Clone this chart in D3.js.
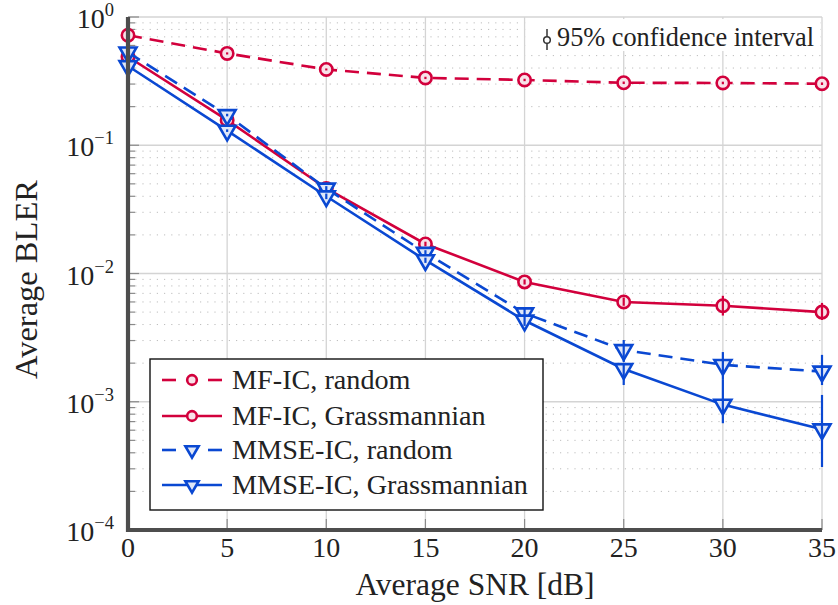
<!DOCTYPE html>
<html>
<head>
<meta charset="utf-8">
<script src="https://cdn.jsdelivr.net/npm/d3@7"></script>
<style>
  html, body { margin: 0; padding: 0; background: #fff; }
  svg { display: block; }
  text { font-family: "Liberation Serif", "DejaVu Serif", serif; fill: #222; }
</style>
</head>
<body>
<svg id="chart" width="838" height="605"></svg>
<script>
// ---- data ----
const snr = [0, 5, 10, 15, 20, 25, 30, 35];
const xTicks = [0, 5, 10, 15, 20, 25, 30, 35];
const yTickExps = [0, -1, -2, -3, -4];

const mfRandom     = [0.72, 0.52, 0.39, 0.335, 0.323, 0.307, 0.306, 0.302];
const mfRandomLo   = [0.71, 0.51, 0.383, 0.328, 0.316, 0.300, 0.299, 0.295];
const mfRandomHi   = [0.73, 0.53, 0.397, 0.342, 0.330, 0.314, 0.313, 0.309];

const mfGrass      = [0.49, 0.157, 0.046, 0.017, 0.0086, 0.0060, 0.0056, 0.0050];
const mfGrassLo    = [0.48, 0.153, 0.0445, 0.0163, 0.0082, 0.0056, 0.0047, 0.00434];
const mfGrassHi    = [0.50, 0.161, 0.0475, 0.0177, 0.0090, 0.0065, 0.0067, 0.0059];

const mmseRandom   = [0.53, 0.172, 0.046, 0.0145, 0.0049, 0.00253, 0.00194, 0.00172];
const mmseRandomLo = [0.52, 0.168, 0.044, 0.0138, 0.0045, 0.00204, 0.00148, 0.00135];
const mmseRandomHi = [0.54, 0.176, 0.048, 0.0152, 0.0053, 0.00303, 0.00244, 0.00232];

const mmseGrass    = [0.415, 0.130, 0.040, 0.0127, 0.0043, 0.0018, 0.00095, 0.00061];
const mmseGrassLo  = [0.405, 0.127, 0.038, 0.0121, 0.0039, 0.00135, 0.00068, 0.00031];
const mmseGrassHi  = [0.425, 0.133, 0.042, 0.0133, 0.0047, 0.00194, 0.00148, 0.00113];

const seriesNames = ["MF-IC, random", "MF-IC, Grassmannian", "MMSE-IC, random", "MMSE-IC, Grassmannian"];
const xLabel = "Average SNR [dB]";
const yLabel = "Average BLER";
const noteText = "95% confidence interval";

// ---- layout ----
const RED = "#d2003c", BLUE = "#0a48d2";
const RED_FILL = "#f8e2e9", BLUE_FILL = "#dfe7f8";
const L = 128, R = 822, T = 17, B = 530;

const svg = d3.select("#chart");
const x = d3.scaleLinear().domain([0, 35]).range([L, R]);
const y = d3.scaleLog().domain([1e-4, 1]).range([B, T]);

const series = [
  { name: seriesNames[0], v: mfRandom,   lo: mfRandomLo,   hi: mfRandomHi,   color: RED,  fill: RED_FILL,  dash: "14,8", mark: "circle" },
  { name: seriesNames[1], v: mfGrass,    lo: mfGrassLo,    hi: mfGrassHi,    color: RED,  fill: RED_FILL,  dash: null,   mark: "circle" },
  { name: seriesNames[2], v: mmseRandom, lo: mmseRandomLo, hi: mmseRandomHi, color: BLUE, fill: BLUE_FILL, dash: "14,8", mark: "tri" },
  { name: seriesNames[3], v: mmseGrass,  lo: mmseGrassLo,  hi: mmseGrassHi,  color: BLUE, fill: BLUE_FILL, dash: null,   mark: "tri" }
];

// ---- grid ----
const grid = svg.append("g");
const minorVals = [];
for (let e = -4; e < 0; e++) for (let m = 2; m <= 9; m++) minorVals.push(m * Math.pow(10, e));
grid.selectAll("line.minor").data(minorVals).enter().append("line")
  .attr("x1", L).attr("x2", R).attr("y1", d => y(d)).attr("y2", d => y(d))
  .attr("stroke", "#bdbdbd").attr("stroke-width", 1).attr("stroke-dasharray", "1.2,6");
grid.selectAll("line.majy").data(yTickExps.map(e => Math.pow(10, e))).enter().append("line")
  .attr("x1", L).attr("x2", R).attr("y1", d => y(d)).attr("y2", d => y(d))
  .attr("stroke", "#d4d4d4").attr("stroke-width", 1.3);
grid.selectAll("line.majx").data(xTicks).enter().append("line")
  .attr("x1", d => x(d)).attr("x2", d => x(d)).attr("y1", T).attr("y2", B)
  .attr("stroke", "#d4d4d4").attr("stroke-width", 1.3);

// ticks (inside)
const ticks = svg.append("g");
ticks.selectAll("line.tx").data(xTicks).enter().append("line")
  .attr("x1", d => x(d)).attr("x2", d => x(d)).attr("y1", B).attr("y2", B - 11)
  .attr("stroke", "#8a8a8a").attr("stroke-width", 1.2);
ticks.selectAll("line.ty").data(yTickExps.map(e => Math.pow(10, e))).enter().append("line")
  .attr("x1", L).attr("x2", L + 11).attr("y1", d => y(d)).attr("y2", d => y(d))
  .attr("stroke", "#8a8a8a").attr("stroke-width", 1.2);
ticks.selectAll("line.tmy").data(minorVals).enter().append("line")
  .attr("x1", L).attr("x2", L + 7).attr("y1", d => y(d)).attr("y2", d => y(d))
  .attr("stroke", "#8a8a8a").attr("stroke-width", 1.2);

// ---- annotation box ----
const note = svg.append("g");
note.append("rect").attr("x", 530).attr("y", 19).attr("width", 290).attr("height", 32).attr("fill", "#fff");
note.append("line").attr("x1", 547).attr("x2", 547).attr("y1", 29).attr("y2", 50)
  .attr("stroke", "#333").attr("stroke-width", 1.5);
note.append("circle").attr("cx", 547).attr("cy", 40).attr("r", 3.3)
  .attr("fill", "#fff").attr("stroke", "#333").attr("stroke-width", 1.5);
note.append("text").attr("x", 557).attr("y", 46).attr("font-size", 26.3).text(noteText);

// ---- series ----
const triPath = r => `M0,${r} L${-r * 0.866},${-r / 2} L${r * 0.866},${-r / 2} Z`;
function drawMark(g, s, cx, cy, scale) {
  if (s.mark === "circle") {
    g.append("circle").attr("cx", cx).attr("cy", cy).attr("r", 6.2 * scale)
      .attr("fill", s.fill).attr("stroke", s.color).attr("stroke-width", 2.6);
  } else {
    g.append("path").attr("d", triPath(9.8 * scale)).attr("transform", `translate(${cx},${cy})`)
      .attr("fill", s.fill).attr("stroke", s.color).attr("stroke-width", 2.6).attr("stroke-linejoin", "miter");
  }
}
const plot = svg.append("g");
const lineGen = d3.line().x((d, i) => x(snr[i])).y(d => y(d));
series.forEach(s => {
  const g = plot.append("g");
  g.append("path").attr("d", lineGen(s.v)).attr("fill", "none")
    .attr("stroke", s.color).attr("stroke-width", 2.6)
    .attr("stroke-dasharray", s.dash);
  s.v.forEach((v, i) => drawMark(g, s, x(snr[i]), y(v), 1));
  s.v.forEach((v, i) => {
    g.append("line").attr("x1", x(snr[i])).attr("x2", x(snr[i]))
      .attr("y1", y(s.lo[i])).attr("y2", y(s.hi[i]))
      .attr("stroke", s.color).attr("stroke-width", 2.2);
  });
});

// ---- axes lines ----
svg.append("path").attr("d", `M${L},${T} L${L},${B} L${R},${B}`)
  .attr("fill", "none").attr("stroke", "#4d4d4d").attr("stroke-width", 4.2).attr("stroke-linejoin", "miter");

// ---- tick labels ----
svg.append("g").selectAll("text").data(xTicks).enter().append("text")
  .attr("x", d => x(d)).attr("y", 557).attr("text-anchor", "middle").attr("font-size", 28)
  .text(d => d);
const yl = svg.append("g").selectAll("text").data(yTickExps).enter().append("text")
  .attr("x", 114).attr("y", d => y(Math.pow(10, d)) + 11).attr("text-anchor", "end").attr("font-size", 28);
yl.append("tspan").text("10");
yl.append("tspan").attr("dy", -12).attr("font-size", 18.5).text(d => d === 0 ? "0" : "\u2212" + Math.abs(d));

// ---- axis titles ----
svg.append("text").attr("x", (L + R) / 2).attr("y", 595).attr("text-anchor", "middle")
  .attr("font-size", 31.5).text(xLabel);
svg.append("text").attr("transform", `translate(37,${(T + B) / 2 + 6}) rotate(-90)`)
  .attr("text-anchor", "middle").attr("font-size", 32.5).text(yLabel);

// ---- legend ----
const lg = svg.append("g");
lg.append("rect").attr("x", 150).attr("y", 359).attr("width", 393).attr("height", 151)
  .attr("fill", "#fff").attr("stroke", "#111").attr("stroke-width", 1.4);
const rowY = [380, 416, 450, 485];
series.forEach((s, i) => {
  const g = lg.append("g");
  const cy = rowY[i];
  if (s.dash) {
    g.append("line").attr("x1", 162).attr("x2", 176).attr("y1", cy).attr("y2", cy)
      .attr("stroke", s.color).attr("stroke-width", 2.6);
    g.append("line").attr("x1", 208).attr("x2", 222).attr("y1", cy).attr("y2", cy)
      .attr("stroke", s.color).attr("stroke-width", 2.6);
  } else {
    g.append("line").attr("x1", 162).attr("x2", 222).attr("y1", cy).attr("y2", cy)
      .attr("stroke", s.color).attr("stroke-width", 2.6);
  }
  drawMark(g, s, 192, cy, 0.78);
  g.append("text").attr("x", 232).attr("y", cy + 9).attr("font-size", 28.2).text(s.name);
});
</script>
</body>
</html>
